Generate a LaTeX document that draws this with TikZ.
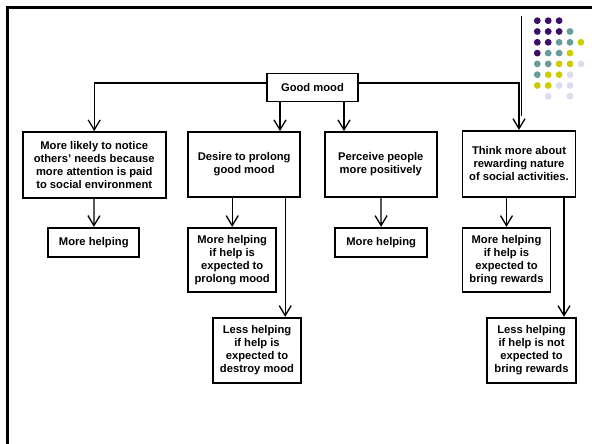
\documentclass[tikz,border=0pt]{standalone}
\usepackage{fontspec}
\setmainfont{Liberation Sans}
\usetikzlibrary{arrows.meta}
\definecolor{dotP}{HTML}{3D0C68}
\definecolor{dotT}{HTML}{669C9C}
\definecolor{dotY}{HTML}{CCCC00}
\definecolor{dotL}{HTML}{DCDCEE}
\tikzset{
    box/.style={draw, line width=1.7pt, align=center, inner sep=0pt,
        font=\bfseries\fontsize{11.2}{13}\selectfont},
    arr/.style={line width=1.3pt, -{Straight Barb[length=10pt,width=12pt]}}
}

\begin{document}
\begin{tikzpicture}[x=1pt, y=-1pt]
    \useasboundingbox (0,0) rectangle (592,444);
    % slide frame and corner dots
    \draw[line width=2.8pt] (7.5,444) -- (7.5,7.5) -- (592,7.5);
    \draw[line width=0.9pt] (521.3,16) -- (521.3,116);
    \foreach \i/\j/\c in {0/0/dotP, 1/0/dotP, 2/0/dotP,
            0/1/dotP, 1/1/dotP, 2/1/dotP, 3/1/dotT,
            0/2/dotP, 1/2/dotP, 2/2/dotT, 3/2/dotT, 4/2/dotY,
            0/3/dotP, 1/3/dotT, 2/3/dotT, 3/3/dotY,
            0/4/dotT, 1/4/dotT, 2/4/dotY, 3/4/dotY, 4/4/dotL,
            0/5/dotT, 1/5/dotY, 2/5/dotY, 3/5/dotL,
            0/6/dotY, 1/6/dotY, 2/6/dotL, 3/6/dotL,
            1/7/dotL, 3/7/dotL}
        \fill[\c] (537.3+10.9*\i, 20.7+10.8*\j) circle (3.4);

    \node[box, minimum width=91pt, minimum height=28pt] (gm) at (312.5, 87.5) {Good mood};

    \node[box, minimum width=143pt, minimum height=66pt] (n1) at (94.2, 165) {More likely to notice\\others' needs because\\more attention is paid\\to social environment};
    \node[box, minimum width=112pt, minimum height=65pt] (n2) at (244.2, 164.5) {Desire to prolong\\good mood};
    \node[box, minimum width=112pt, minimum height=65pt] (n3) at (380.8, 164.5) {Perceive people\\more positively};
    \node[box, minimum width=113pt, minimum height=66pt] (n4) at (519, 163.8) {Think more about\\rewarding nature\\of social activities.};

    \node[box, minimum width=91pt, minimum height=29pt] (n1h) at (93.8, 242.2) {More helping};
    \node[box, minimum width=88pt, minimum height=64.6pt] (n2a) at (232.2, 260) {More helping\\if help is\\expected to\\prolong mood};
    \node[box, minimum width=92pt, minimum height=29pt] (n3h) at (381.2, 242.2) {More helping};
    \node[box, minimum width=88pt, minimum height=64.6pt] (n4a) at (506.5, 260) {More helping\\if help is\\expected to\\bring rewards};
    \node[box, minimum width=87.5pt, minimum height=65pt] (n2b) at (257, 350.2) {Less helping\\if help is\\expected to\\destroy mood};
    \node[box, minimum width=88.5pt, minimum height=65pt] (n4b) at (531.5, 350.2) {Less helping\\if help is not\\expected to\\bring rewards};

    \draw[arr] ([yshift=4.5pt]gm.west) -| (n1.north);
    \draw[arr] ([yshift=4.5pt]gm.east) -| (n4.north);
    \draw[arr] ([xshift=-32.5pt]gm.south) -- ([xshift=-32.5pt]gm.south |- n2.north);
    \draw[arr] ([xshift=31.5pt]gm.south) -- ([xshift=31.5pt]gm.south |- n3.north);

    \draw
    (n1) edge[arr] (n1h)
    (n3) edge[arr] (n3h)
    (n2a.north |- n2.south) edge[arr] (n2a.north)
    ([xshift=41pt]n2.south) edge[arr] ([xshift=41pt]n2.south |- n2b.north)
    (n4a.north |- n4.south) edge[arr] (n4a.north)
    ([xshift=45pt]n4.south) edge[arr] ([xshift=45pt]n4.south |- n4b.north);
\end{tikzpicture}
\end{document}
